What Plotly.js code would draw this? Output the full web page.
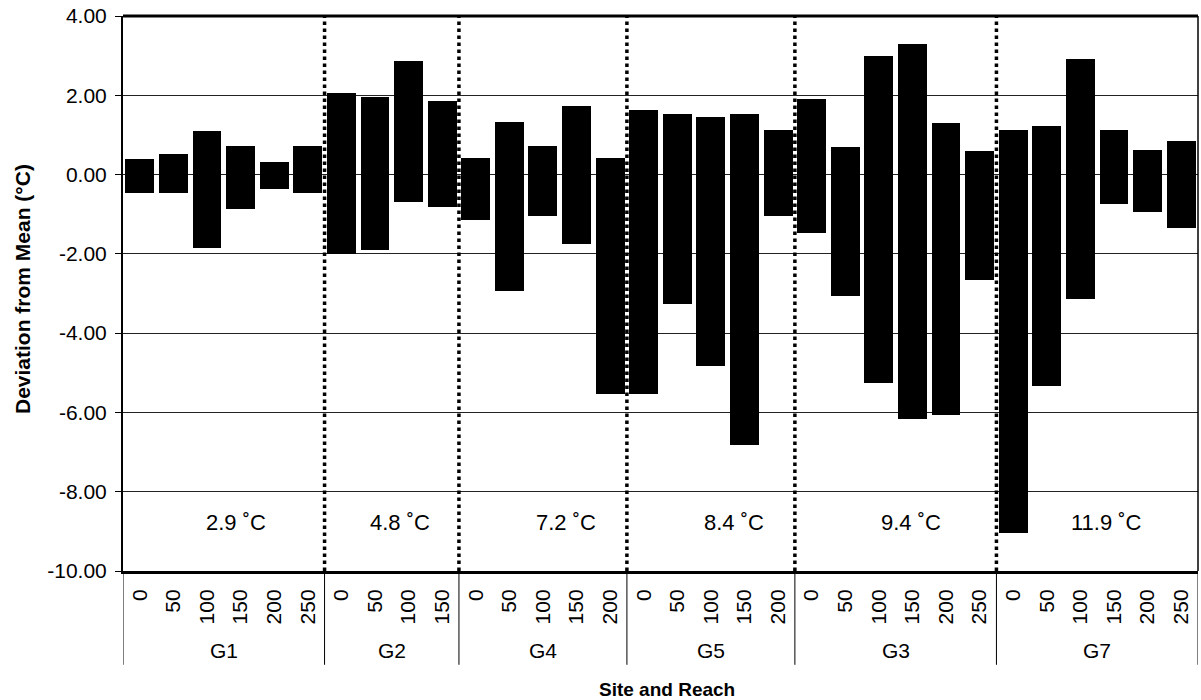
<!DOCTYPE html>
<html>
<head>
<meta charset="utf-8">
<script src="https://cdn.plot.ly/plotly-3.0.1.min.js"></script>
<style>html,body{margin:0;padding:0;background:#fff;}#chart{width:1201px;height:700px;}</style>
</head>
<body>
<div id="chart"></div>
<script>
// ---- data ----
const sites = ["G1", "G2", "G4", "G5", "G3", "G7"];
const siteTemps = ["2.9 ˚C", "4.8 ˚C", "7.2 ˚C", "8.4 ˚C", "9.4 ˚C", "11.9 ˚C"];
const reaches = [
  ["0", "50", "100", "150", "200", "250"],
  ["0", "50", "100", "150"],
  ["0", "50", "100", "150", "200"],
  ["0", "50", "100", "150", "200"],
  ["0", "50", "100", "150", "200", "250"],
  ["0", "50", "100", "150", "200", "250"]
];
const maxDev = [
  0.40, 0.51, 1.10, 0.71, 0.31, 0.72,
  2.05, 1.96, 2.86, 1.86,
  0.42, 1.32, 0.73, 1.72, 0.42,
  1.64, 1.52, 1.44, 1.52, 1.13,
  1.90, 0.69, 2.99, 3.30, 1.29, 0.60,
  1.12, 1.23, 2.92, 1.13, 0.62, 0.84
];
const minDev = [
  -0.46, -0.46, -1.85, -0.86, -0.36, -0.46,
  -2.00, -1.91, -0.70, -0.82,
  -1.15, -2.94, -1.04, -1.74, -5.53,
  -5.53, -3.26, -4.84, -6.83, -1.04,
  -1.48, -3.07, -5.27, -6.16, -6.06, -2.67,
  -9.03, -5.33, -3.13, -0.74, -0.94, -1.34
];
const yTickVals = [4, 2, 0, -2, -4, -6, -8, -10];

// ---- build ----
const tickText = [];
const siteStart = [];
reaches.forEach(r => { siteStart.push(tickText.length); r.forEach(v => tickText.push(v)); });
const xs = tickText.map((_, i) => i);
const n = xs.length;

const FONT = "Liberation Sans, Arial, sans-serif";

const trace = {
  type: "bar",
  x: xs,
  y: maxDev.map((m, i) => m - minDev[i]),
  base: minDev,
  width: 0.86,
  marker: { color: "#000", line: { width: 0 } },
  hoverinfo: "skip"
};

const shapes = [];
const annotations = [];
// frame: top and right borders
shapes.push({ type: "line", xref: "paper", yref: "paper", x0: 0, x1: 1, y0: 1, y1: 1, line: { color: "#000", width: 3 } });
shapes.push({ type: "line", xref: "paper", yref: "paper", x0: 1, x1: 1, y0: 0, y1: 1, line: { color: "#000", width: 1.5 } });
// group boundaries
const tempOffsets = [0.36, 0.24, 0.69, 0.7, 0.46, 0.29];
sites.forEach((s, k) => {
  const a = siteStart[k] - 0.5;
  const b = a + reaches[k].length;
  if (k > 0) {
    shapes.push({ type: "line", xref: "x", yref: "y", x0: a, x1: a, y0: -10, y1: 4,
      line: { color: "#000", width: 3.5, dash: "dot" } });
  }
  shapes.push({ type: "line", xref: "x", yref: "paper", x0: a, x1: a, y0: 0, y1: -0.169,
    line: { color: "#000", width: 1 } });
  if (k === sites.length - 1) {
    shapes.push({ type: "line", xref: "x", yref: "paper", x0: b, x1: b, y0: 0, y1: -0.169,
      line: { color: "#000", width: 1 } });
  }
  const c = (a + b) / 2;
  annotations.push({ xref: "x", yref: "paper", x: c, y: -0.143, text: s, showarrow: false,
    xanchor: "center", yanchor: "middle", font: { family: FONT, size: 21, color: "#000" } });
  annotations.push({ xref: "x", yref: "y", x: c + tempOffsets[k], y: -8.78, text: siteTemps[k], showarrow: false,
    xanchor: "center", yanchor: "middle", font: { family: FONT, size: 22, color: "#000" } });
});
annotations.push({ xref: "paper", yref: "paper", x: 0.506, y: -0.214, text: "<b>Site and Reach</b>",
  showarrow: false, xanchor: "center", yanchor: "middle", font: { family: FONT, size: 19, color: "#000" } });
annotations.push({ xref: "paper", yref: "paper", x: -0.094, y: 0.508, text: "<b>Deviation from Mean (°C)</b>",
  textangle: -90, showarrow: false, xanchor: "center", yanchor: "middle", font: { family: FONT, size: 21, color: "#000" } });

const layout = {
  width: 1201, height: 700,
  margin: { l: 123, r: 3, t: 16, b: 129, pad: 0 },
  paper_bgcolor: "#fff", plot_bgcolor: "#fff",
  showlegend: false,
  bargap: 0,
  xaxis: {
    type: "linear",
    range: [-0.5, n - 0.5],
    tickmode: "array", tickvals: xs, ticktext: tickText,
    tickangle: -90,
    ticks: "", ticklabelstandoff: 7,
    showgrid: false, zeroline: false,
    showline: true, linecolor: "#000", linewidth: 3,
    tickfont: { family: FONT, size: 21, color: "#000" },
    fixedrange: true
  },
  yaxis: {
    range: [-10, 4],
    tickmode: "array", tickvals: yTickVals, ticktext: yTickVals.map(v => v.toFixed(2)),
    ticks: "outside", ticklen: 6, tickcolor: "#000", tickwidth: 1,
    ticklabelstandoff: 4,
    showgrid: true, gridcolor: "#222", gridwidth: 1,
    zeroline: false,
    showline: true, linecolor: "#000", linewidth: 2,
    tickfont: { family: FONT, size: 21, color: "#000" },
    fixedrange: true
  },
  shapes: shapes,
  annotations: annotations
};

Plotly.newPlot("chart", [trace], layout, { displayModeBar: false, staticPlot: true });
</script>
</body>
</html>
